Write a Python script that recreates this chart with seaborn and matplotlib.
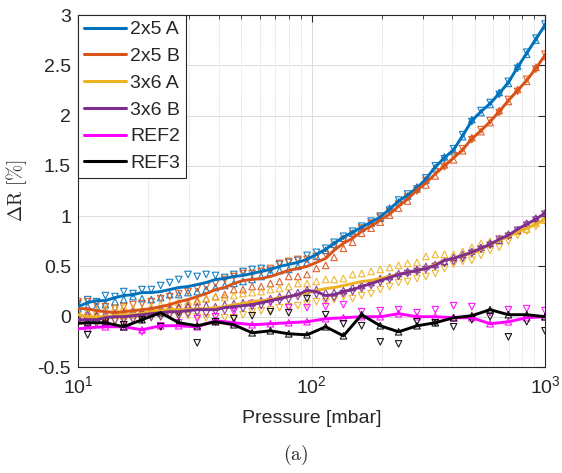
import numpy as np
import pandas as pd
import seaborn as sns
import matplotlib
matplotlib.use('Agg')
import matplotlib.pyplot as plt
from matplotlib.ticker import LogLocator, FuncFormatter, NullFormatter

# pressure grid of the sensor sweeps [mbar]
pressure = [10.0, 11.0, 12.0, 13.1, 14.4, 15.7, 17.2, 18.8, 20.6, 22.6,
            24.7, 27.0, 29.6, 32.4, 35.4, 38.8, 42.5, 46.5, 50.9, 55.7,
            60.9, 66.7, 73.0, 79.9, 87.4, 95.7, 105, 115, 125, 137,
            150, 164, 180, 197, 216, 236, 258, 283, 309, 339,
            371, 406, 444, 486, 532, 582, 637, 697, 763, 835,
            914, 1000]
# pressure grid of the reference sweeps [mbar]
pressure_ref = [9.2, 11.0, 13.1, 15.7, 18.8, 22.6, 27.0, 32.4, 38.8, 46.5,
                55.7, 66.7, 79.9, 95.7, 115, 137, 164, 197, 236, 283,
                339, 406, 486, 582, 697, 835, 1000]

# 2x5 A
a25_line = [0.10, 0.14, 0.16, 0.16, 0.19, 0.21, 0.22, 0.24, 0.24, 0.25,
            0.27, 0.29, 0.30, 0.32, 0.34, 0.37, 0.38, 0.40, 0.41, 0.43,
            0.45, 0.47, 0.50, 0.52, 0.54, 0.57, 0.62, 0.67, 0.73, 0.79,
            0.84, 0.89, 0.94, 0.99, 1.07, 1.15, 1.21, 1.28, 1.37, 1.49,
            1.58, 1.66, 1.80, 1.95, 2.04, 2.12, 2.22, 2.33, 2.48, 2.62,
            2.76, 2.90]
a25_up = [0.08, 0.10, 0.10, 0.12, 0.15, 0.17, 0.20, 0.18, 0.17, 0.19,
          0.22, 0.22, 0.24, 0.25, 0.27, 0.29, 0.31, 0.33, 0.35, 0.37,
          0.40, 0.44, 0.46, 0.47, 0.50, 0.54, 0.60, 0.66, 0.72, 0.78,
          0.83, 0.88, 0.93, 0.98, 1.08, 1.14, 1.20, 1.29, 1.36, 1.48,
          1.59, 1.65, 1.79, 1.96, 2.03, 2.11, 2.23, 2.32, 2.49, 2.61,
          2.75, 2.89]
a25_down = [0.13, 0.17, 0.15, 0.21, 0.20, 0.25, 0.23, 0.27, 0.27, 0.31,
            0.34, 0.37, 0.42, 0.40, 0.42, 0.41, 0.39, 0.42, 0.45, 0.47,
            0.48, 0.46, 0.52, 0.54, 0.56, 0.61, 0.64, 0.68, 0.74, 0.80,
            0.85, 0.90, 0.95, 1.00, 1.06, 1.16, 1.22, 1.27, 1.38, 1.50,
            1.57, 1.67, 1.81, 1.94, 2.05, 2.13, 2.21, 2.34, 2.47, 2.63,
            2.77, 2.91]

# 2x5 B
b25_line = [0.08, 0.08, 0.06, 0.05, 0.04, 0.05, 0.06, 0.07, 0.08, 0.10,
            0.12, 0.15, 0.17, 0.20, 0.23, 0.27, 0.29, 0.33, 0.36, 0.37,
            0.38, 0.40, 0.43, 0.46, 0.48, 0.50, 0.54, 0.58, 0.66, 0.73,
            0.78, 0.85, 0.90, 0.96, 1.02, 1.10, 1.17, 1.26, 1.33, 1.42,
            1.50, 1.58, 1.66, 1.77, 1.85, 1.94, 2.04, 2.15, 2.25, 2.35,
            2.47, 2.60]
b25_up = [0.03, 0.05, 0.02, 0.00, 0.02, 0.01, 0.02, 0.03, 0.04, 0.05,
          0.07, 0.10, 0.12, 0.15, 0.18, 0.20, 0.22, 0.27, 0.27, 0.30,
          0.30, 0.33, 0.35, 0.40, 0.40, 0.42, 0.48, 0.51, 0.59, 0.68,
          0.74, 0.83, 0.88, 0.94, 1.01, 1.08, 1.15, 1.27, 1.31, 1.40,
          1.51, 1.56, 1.65, 1.78, 1.84, 1.93, 2.05, 2.14, 2.26, 2.34,
          2.48, 2.59]
b25_down = [0.15, 0.15, 0.12, 0.10, 0.08, 0.10, 0.12, 0.13, 0.15, 0.18,
            0.20, 0.23, 0.25, 0.28, 0.30, 0.33, 0.37, 0.40, 0.43, 0.43,
            0.45, 0.48, 0.53, 0.55, 0.57, 0.57, 0.60, 0.62, 0.70, 0.76,
            0.82, 0.88, 0.93, 0.99, 1.04, 1.12, 1.19, 1.25, 1.35, 1.44,
            1.49, 1.60, 1.67, 1.76, 1.86, 1.95, 2.03, 2.16, 2.24, 2.36,
            2.46, 2.61]

# 3x6 A
a36_line = [0.02, 0.00, 0.00, 0.00, 0.01, 0.02, 0.02, 0.03, 0.05, 0.06,
            0.07, 0.07, 0.07, 0.08, 0.08, 0.09, 0.10, 0.12, 0.13, 0.15,
            0.16, 0.17, 0.19, 0.20, 0.22, 0.24, 0.26, 0.28, 0.29, 0.31,
            0.33, 0.35, 0.36, 0.38, 0.40, 0.42, 0.44, 0.46, 0.48, 0.52,
            0.56, 0.58, 0.61, 0.63, 0.67, 0.72, 0.76, 0.80, 0.84, 0.88,
            0.92, 0.97]
a36_up = [0.05, 0.04, 0.06, 0.08, 0.09, 0.10, 0.08, 0.07, 0.10, 0.12,
          0.12, 0.14, 0.15, 0.17, 0.18, 0.20, 0.19, 0.21, 0.23, 0.24,
          0.25, 0.27, 0.28, 0.30, 0.33, 0.33, 0.35, 0.37, 0.37, 0.38,
          0.42, 0.43, 0.45, 0.47, 0.49, 0.51, 0.53, 0.54, 0.60, 0.62,
          0.62, 0.62, 0.65, 0.69, 0.73, 0.75, 0.78, 0.81, 0.85, 0.87,
          0.93, 0.96]
a36_down = [-0.02, -0.04, -0.05, -0.06, -0.05, -0.04, -0.03, -0.02, 0.00, 0.00,
            0.01, 0.00, 0.01, 0.00, -0.01, 0.00, -0.01, -0.01, 0.02, 0.05,
            0.06, 0.07, 0.09, 0.10, 0.11, 0.13, 0.15, 0.15, 0.17, 0.20,
            0.18, 0.21, 0.23, 0.27, 0.30, 0.34, 0.35, 0.38, 0.40, 0.43,
            0.48, 0.52, 0.55, 0.56, 0.61, 0.66, 0.69, 0.75, 0.81, 0.85,
            0.90, 0.95]

# 3x6 B
b36_line = [-0.03, -0.03, -0.03, -0.01, 0.00, 0.00, 0.01, 0.02, 0.03, 0.04,
            0.05, 0.05, 0.06, 0.07, 0.07, 0.07, 0.09, 0.10, 0.11, 0.12,
            0.14, 0.16, 0.18, 0.20, 0.22, 0.26, 0.25, 0.21, 0.22, 0.25,
            0.27, 0.30, 0.33, 0.36, 0.39, 0.42, 0.44, 0.46, 0.48, 0.51,
            0.56, 0.58, 0.61, 0.64, 0.68, 0.72, 0.77, 0.81, 0.87, 0.92,
            0.97, 1.03]
b36_up = [0.00, 0.02, 0.01, 0.03, 0.03, 0.04, 0.05, 0.05, 0.07, 0.08,
          0.08, 0.09, 0.10, 0.10, 0.11, 0.10, 0.12, 0.13, 0.14, 0.14,
          0.16, 0.18, 0.20, 0.23, 0.24, 0.27, 0.27, 0.24, 0.24, 0.26,
          0.29, 0.31, 0.34, 0.38, 0.40, 0.43, 0.45, 0.47, 0.50, 0.52,
          0.55, 0.59, 0.62, 0.65, 0.69, 0.73, 0.76, 0.82, 0.86, 0.93,
          0.98, 1.03]
b36_down = [-0.06, -0.05, -0.07, -0.05, -0.04, -0.03, -0.03, -0.02, -0.01, 0.00,
            0.02, 0.01, 0.03, 0.04, 0.03, 0.05, 0.06, 0.08, 0.08, 0.10,
            0.11, 0.14, 0.16, 0.17, 0.20, 0.23, 0.22, 0.18, 0.19, 0.23,
            0.25, 0.28, 0.31, 0.34, 0.37, 0.40, 0.43, 0.45, 0.47, 0.50,
            0.53, 0.55, 0.58, 0.63, 0.67, 0.71, 0.77, 0.80, 0.86, 0.91,
            0.96, 1.02]

# REF2
ref2_line = [-0.13, -0.11, -0.10, -0.10, -0.13, -0.09, -0.09, -0.10, -0.04, -0.06,
             -0.08, -0.07, -0.06, -0.05, -0.02, -0.01, 0.00, 0.00, 0.03, 0.00,
             0.00, -0.01, -0.01, -0.07, -0.05, -0.01, 0.00]
ref2_down = [-0.10, -0.09, -0.08, -0.08, -0.15, -0.09, -0.06, -0.02, 0.00, 0.05,
             0.13, 0.15, 0.09, 0.09, 0.10, 0.12, 0.05, 0.06, 0.07, 0.04,
             0.07, 0.11, 0.10, 0.04, 0.07, 0.08, 0.06]

# REF3
ref3_line = [-0.07, -0.06, -0.06, -0.10, -0.03, 0.04, -0.06, -0.09, -0.05, -0.08,
             -0.16, -0.14, -0.17, -0.18, -0.10, -0.19, 0.02, -0.09, -0.15, -0.09,
             -0.06, -0.01, 0.01, 0.07, 0.02, 0.02, 0.00]
ref3_down = [-0.10, -0.18, -0.05, -0.08, -0.03, -0.10, 0.04, -0.26, -0.05, -0.02,
             0.01, 0.05, 0.04, 0.18, 0.02, -0.07, -0.09, -0.25, -0.27, -0.05,
             -0.06, -0.10, -0.03, 0.00, -0.20, -0.05, -0.14]

labels = ['2x5 A', '2x5 B', '3x6 A', '3x6 B', 'REF2', 'REF3']
colors = ['#0072BD', '#D95319', '#EDB120', '#7E2F8E', '#FF00FF', '#000000']

series = [
    (pressure, a25_line, a25_up, a25_down),
    (pressure, b25_line, b25_up, b25_down),
    (pressure, a36_line, a36_up, a36_down),
    (pressure, b36_line, b36_up, b36_down),
    (pressure_ref, ref2_line, ref2_line, ref2_down),
    (pressure_ref, ref3_line, ref3_line, ref3_down),
]

sns.set_theme(style='white')
plt.rcParams['font.family'] = ['Liberation Sans', 'DejaVu Sans']
plt.rcParams['mathtext.fontset'] = 'cm'
plt.rcParams['axes.unicode_minus'] = False

fig = plt.figure(figsize=(5.62, 4.73), dpi=100)
ax = fig.add_axes([78 / 562, 1 - 367 / 473, 467 / 562, 352 / 473])

# raw sweep points (hollow triangles)
for (p, line, up, down), c in zip(series, colors):
    sns.scatterplot(x=p, y=up, marker='^', s=22, color=c, facecolor='none',
                    edgecolor=c, linewidth=0.8, alpha=0.9, ax=ax, zorder=2, legend=False)
    sns.scatterplot(x=p, y=down, marker='v', s=22, color=c, facecolor='none',
                    edgecolor=c, linewidth=0.8, alpha=0.9, ax=ax, zorder=2, legend=False)

# averaged curves
for (p, line, up, down), c, lab in zip(series, colors, labels):
    sns.lineplot(x=p, y=line, color=c, lw=2.1, label=lab, ax=ax, zorder=3)

ax.set_xscale('log')
ax.set_xlim(10, 1000)
ax.set_ylim(-0.5, 3)
ax.set_yticks(np.arange(-0.5, 3.01, 0.5))
ax.yaxis.set_major_formatter(FuncFormatter(lambda v, _: f'{v:g}'))
ax.xaxis.set_minor_locator(LogLocator(base=10, subs=np.arange(2, 10)))
ax.xaxis.set_minor_formatter(NullFormatter())

ax.grid(True, which='major', color='#dcdcdc', lw=0.7)
ax.grid(True, which='minor', axis='x', color='#cfcfcf', ls=':', lw=0.7)
ax.set_axisbelow(True)

ax.tick_params(which='both', direction='in', top=True, right=True,
               colors='#262626', labelcolor='#262626', labelsize=14)
ax.tick_params(which='major', length=5, width=0.8)
ax.tick_params(which='minor', length=3, width=0.6)
ax.tick_params(axis='x', pad=6)
ax.tick_params(axis='y', pad=5)
for sp in ax.spines.values():
    sp.set_color('#262626')
    sp.set_linewidth(0.8)

ax.set_xlabel('Pressure [mbar]', fontsize=14, color='#262626')
ax.xaxis.set_label_coords(0.5, -0.122)
ax.set_ylabel(r'$\Delta\mathrm{R}\ [\%]$', fontsize=14, color='#262626')
ax.yaxis.set_label_coords(-0.105, 0.5)

leg = ax.legend(loc='upper left', frameon=True, fancybox=False, framealpha=1,
                edgecolor='#262626', borderaxespad=0, fontsize=14,
                handlelength=2.15, handletextpad=0.25, labelspacing=0.47,
                borderpad=0.3)
leg.get_frame().set_linewidth(0.8)
for h in leg.get_lines():
    h.set_linewidth(2.2)

fig.text(296 / 562, 1 - 455 / 473, r'$\mathrm{(a)}$', ha='center', va='center',
         fontsize=14, color='#262626')

fig.savefig('out.png', dpi=100)
